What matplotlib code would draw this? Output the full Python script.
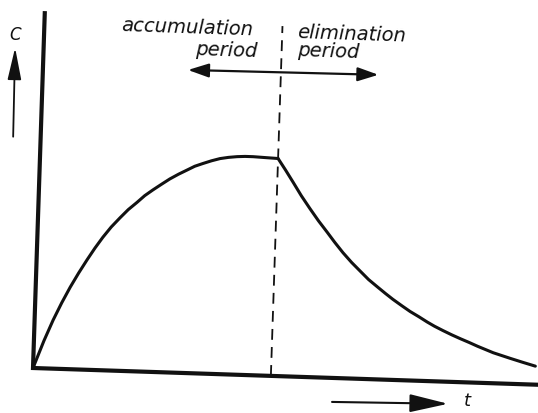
# plot.py -- accumulation / elimination sketch (C against t)
import matplotlib
matplotlib.use('Agg')
import matplotlib.pyplot as plt
from matplotlib.transforms import Affine2D

INK = '#111111'
WHITE = '#FFFFFF'

# concentration curve (t and C in arbitrary units)
t_rise = [0, 0.20, 0.37, 0.53, 0.69, 0.85, 1.01, 1.16, 1.31, 1.47, 1.64,
          1.80, 1.97, 2.12, 2.28, 2.45, 2.61, 2.78, 2.95, 3.10, 3.26, 3.43,
          3.60, 3.77, 3.94, 4.10, 4.26, 4.50, 4.76]
c_rise = [0, 0.55, 0.97, 1.32, 1.64, 1.93, 2.20, 2.44, 2.66, 2.87, 3.06,
          3.23, 3.38, 3.52, 3.64, 3.76, 3.87, 3.97, 4.06, 4.14, 4.20, 4.26,
          4.31, 4.34, 4.36, 4.37, 4.37, 4.36, 4.35]
t_decay = [4.76, 4.92, 5.08, 5.25, 5.43, 5.61, 5.79, 5.95, 6.12, 6.30, 6.48,
           6.65, 6.83, 7.00, 7.15, 7.33, 7.50, 7.68, 7.85, 8.00, 8.17, 8.35,
           8.52, 8.70, 8.87, 9.03, 9.19, 9.36, 9.53, 9.78, 10.04]
c_decay = [4.35, 4.12, 3.88, 3.62, 3.37, 3.13, 2.91, 2.71, 2.51, 2.32, 2.15,
           1.99, 1.85, 1.72, 1.61, 1.49, 1.38, 1.28, 1.18, 1.10, 1.02, 0.94,
           0.87, 0.80, 0.73, 0.67, 0.61, 0.56, 0.51, 0.44, 0.37]

t_switch = 4.76          # end of dosing
t_axis_end = 10.3
c_axis_end = 7.1

label_acc = ['accumulation', 'period']
label_elim = ['elimination', 'period']

# scan is tilted a bit clockwise
TILT = -1.9

fig = plt.figure(figsize=(5.38, 4.13), dpi=100)
fig.patch.set_facecolor(WHITE)
ax = fig.add_axes([0, 0, 1, 1])
ax.set_xlim(-0.66, 10.1)
ax.set_ylim(-0.9, 7.36)
ax.axis('off')

# rotate around the origin of the diagram (display px, y up)
tr = ax.transData + Affine2D().rotate_deg_around(33, 45, TILT)

# axes
ax.plot([0, 0, t_axis_end], [c_axis_end, 0, 0], color=INK, lw=3.0,
        solid_joinstyle='miter', transform=tr)

# curve
ax.plot(t_rise, c_rise, color=INK, lw=2.2, solid_capstyle='round',
        solid_joinstyle='round', transform=tr)
ax.plot(t_decay, c_decay, color=INK, lw=2.2, solid_capstyle='round',
        solid_joinstyle='round', transform=tr)

# dashed divider
ax.plot([t_switch, t_switch], [0, 7.0], color=INK, lw=1.3,
        ls=(0, (6, 4)), transform=tr)

# double arrow across the divider
ax.annotate('', xy=(2.90, 6.06), xytext=(6.71, 6.09),
            xycoords=tr, textcoords=tr,
            arrowprops=dict(arrowstyle='<|-|>,head_length=0.9,head_width=0.3',
                            color=INK, lw=1.6, mutation_scale=14,
                            shrinkA=0, shrinkB=0))

txt = dict(transform=tr, rotation=TILT, rotation_mode='anchor',
           style='italic', fontsize=14, color=INK)
ax.text(4.18, 6.80, label_acc[0], ha='right', va='baseline', **txt)
ax.text(4.27, 6.37, label_acc[1], ha='right', va='baseline', **txt)
ax.text(5.06, 6.78, label_elim[0], ha='left', va='baseline', **txt)
ax.text(5.07, 6.42, label_elim[1], ha='left', va='baseline', **txt)

# axis labels with their arrows
ax.annotate('', xy=(-0.57, 6.39), xytext=(-0.55, 4.61),
            xycoords=tr, textcoords=tr,
            arrowprops=dict(arrowstyle='-|>,head_length=1.4,head_width=0.3',
                            color=INK, lw=1.3, mutation_scale=14,
                            shrinkA=0, shrinkB=0))
ax.text(-0.58, 6.65, 'C', ha='center', va='center', fontsize=12,
        style='italic', color=INK, transform=tr)

ax.annotate('', xy=(8.32, -0.44), xytext=(6.00, -0.48),
            xycoords=tr, textcoords=tr,
            arrowprops=dict(arrowstyle='-|>,head_length=1.7,head_width=0.4',
                            color=INK, lw=1.5, mutation_scale=14,
                            shrinkA=0, shrinkB=0))
ax.text(8.70, -0.38, 't', ha='center', va='center', fontsize=13,
        style='italic', color=INK, transform=tr)

fig.savefig('out.png', dpi=100, facecolor=WHITE)
plt.close(fig)
